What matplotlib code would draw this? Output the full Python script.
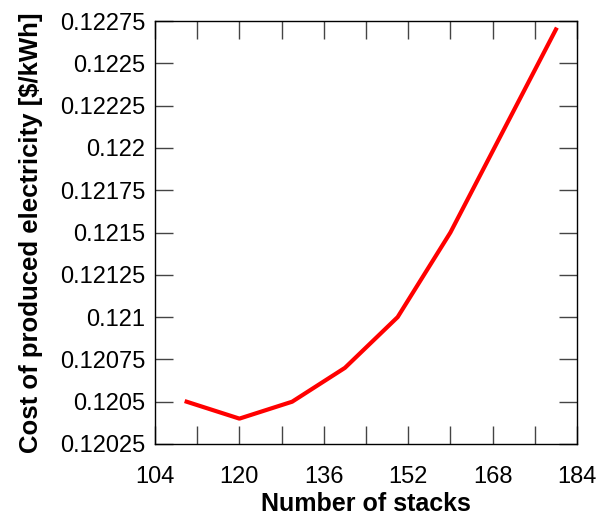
import matplotlib
matplotlib.use('Agg')
import matplotlib.pyplot as plt
from matplotlib.ticker import MultipleLocator

# stacks vs. electricity cost
stacks = [110, 120, 130, 140, 150, 160, 170, 180]
cost = [0.1205, 0.1204, 0.1205, 0.1207, 0.1210, 0.1215, 0.1221, 0.1227]

xticks = [104, 120, 136, 152, 168, 184]
yticks = [0.12025, 0.1205, 0.12075, 0.121, 0.12125, 0.1215, 0.12175, 0.122, 0.12225, 0.1225, 0.12275]
ylabels = ['0.12025', '0.1205', '0.12075', '0.121', '0.12125', '0.1215', '0.12175', '0.122', '0.12225', '0.1225', '0.12275']

plt.rcParams['font.family'] = ['Liberation Sans', 'DejaVu Sans']

fig = plt.figure(figsize=(6.0, 5.17), dpi=100)
ax = fig.add_axes([155 / 600, 1 - 444 / 517, 422 / 600, 423 / 517])

ax.plot(stacks, cost, color='#ff0000', lw=3)

ax.set_xlim(104, 184)
ax.set_ylim(0.12025, 0.12275)
ax.set_xticks(xticks)
ax.xaxis.set_minor_locator(MultipleLocator(8))
ax.set_yticks(yticks)
ax.set_yticklabels(ylabels)

ax.tick_params(axis='both', which='both', direction='in', top=True, right=True,
               labelsize=17, width=1, color='#444444')
ax.tick_params(axis='both', which='major', length=13)
ax.tick_params(axis='x', which='minor', length=13)
ax.tick_params(axis='x', which='major', pad=16)
ax.tick_params(axis='y', which='major', pad=7)
for s in ax.spines.values():
    s.set_linewidth(1)

ax.set_xlabel('Number of stacks', fontsize=18, fontweight='bold', labelpad=3)
ax.set_ylabel('Cost of produced electricity [$/kWh]', fontsize=18.5, fontweight='bold', labelpad=12)

fig.savefig('out.png', dpi=100)
